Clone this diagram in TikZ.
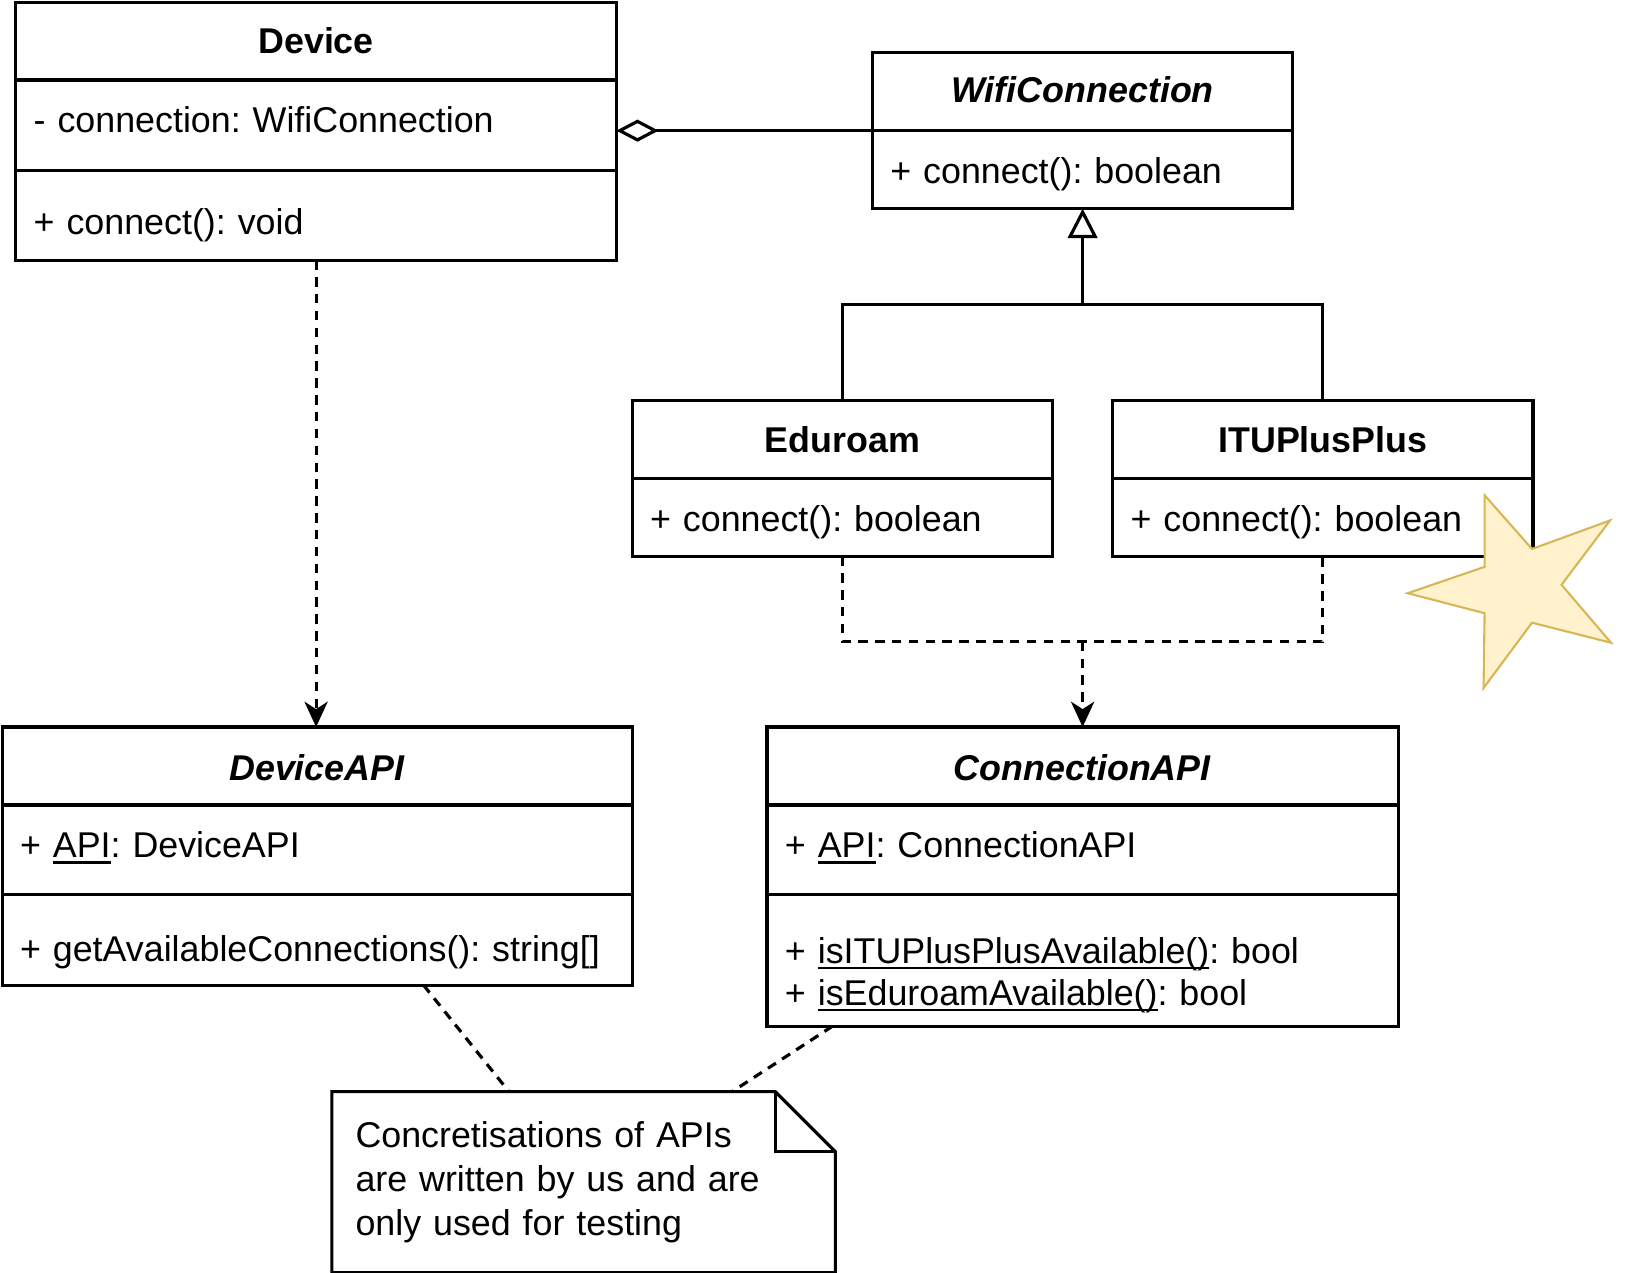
\documentclass[tikz,border=0pt]{standalone}
\usepackage{fontspec}
\setmainfont{Liberation Sans}
\usetikzlibrary{arrows.meta,chains,positioning}

\definecolor{starfill}{HTML}{FFF2CC}
\definecolor{stardraw}{HTML}{D6B656}

\frenchspacing
% static member underline and text drop inside a compartment
\newcommand{\ulined}[1]{\setbox0\hbox{#1}\rlap{\rule[-2.8pt]{\wd0}{1pt}}\box0}
\newcommand{\drop}[2]{\raisebox{-#1}[\height][\depth]{#2}}

\begin{document}
\begin{tikzpicture}[
         x = 0.5pt, y = -0.5pt,
     node distance = 0pt,
              font = \fontsize{17}{20}\selectfont,
UmlHead/.style={draw, line width=1.5pt, outer sep=0pt, on chain,
                minimum width=#1, minimum height=37pt},
UmlPart/.style 2 args={draw, line width=1.5pt, outer sep=0pt, on chain,
                inner xsep=8.5pt, text width=#1, minimum height=#2, align=left},
UmlNote/.style={inner xsep=11pt, text width=216.5pt, minimum height=85.5pt,
                align=left, font=\fontsize{17}{20.75}\selectfont},
UmlLine/.style={line width=1.5pt},
UmlDash/.style={line width=1.5pt, dash pattern=on 4.5pt off 3.5pt},
  ]
\useasboundingbox (0,0) rectangle (1566,1208);

% classes
\begin{scope}[start chain = going below]
\node [UmlHead=285pt, anchor=north west] (devHead) at (15,2) {\textbf{Device}};
\node [UmlPart={268pt}{43pt}] (devAttr) {\drop{-2.5pt}{- connection: WifiConnection}};
\node [UmlPart={268pt}{42.5pt}] (devMeth) {\drop{4.5pt}{+ connect(): void}};
\end{scope}

\begin{scope}[start chain = going below]
\node [UmlHead=199.5pt, anchor=north west] (wifiHead) at (828,50) {\drop{-1pt}{\textbf{\textit{WifiConnection}}}};
\node [UmlPart={182.5pt}{37pt}] (wifiMeth) {\drop{2pt}{+ connect(): boolean}};
\end{scope}

\begin{scope}[start chain = going below]
\node [UmlHead=199.5pt, anchor=north west] (eduHead) at (600,380) {\textbf{Eduroam}};
\node [UmlPart={182.5pt}{37pt}] (eduMeth) {\drop{2.5pt}{+ connect(): boolean}};
\end{scope}

\begin{scope}[start chain = going below]
\node [UmlHead=199.5pt, anchor=north west] (ituHead) at (1056,380) {\textbf{ITUPlusPlus}};
\node [UmlPart={182.5pt}{37pt}] (ituMeth) {\drop{2.5pt}{+ connect(): boolean}};
\end{scope}

\begin{scope}[start chain = going below]
\node [UmlHead=299pt, anchor=north west] (devapiHead) at (2,690) {\drop{1pt}{\textbf{\textit{DeviceAPI}}}};
\node [UmlPart={282pt}{42.5pt}] (devapiAttr) {\drop{-1pt}{+ \ulined{API}: DeviceAPI}};
\node [UmlPart={282pt}{43pt}] (devapiMeth) {\drop{6pt}{+ getAvailableConnections(): string[]}};
\end{scope}

\begin{scope}[start chain = going below]
\node [UmlHead=299.5pt, anchor=north west] (connHead) at (728,690) {\drop{1pt}{\textbf{\textit{ConnectionAPI}}}};
\node [UmlPart={282.5pt}{42.5pt}] (connAttr) {\drop{-1pt}{+ \ulined{API}: ConnectionAPI}};
\node [UmlPart={282.5pt}{62.5pt}] (connMeth) {\drop{7pt}{+ \ulined{isITUPlusPlusAvailable()}: bool}\\
                                              \drop{7pt}{+ \ulined{isEduroamAvailable()}: bool}};
\end{scope}

% note
\node [UmlNote, anchor=north west] (note) at (315,1036)
      {Concretisations of APIs\\are written by us and are\\only used for testing};
\draw[UmlLine] (note.north west) -- ([xshift=-28.5pt]note.north east)
      -- ([yshift=-28.5pt]note.north east) -- (note.south east)
      -- (note.south west) -- cycle;
\draw[UmlLine] ([xshift=-28.5pt]note.north east) |- ([yshift=-28.5pt]note.north east);

% connectors
\coordinate (split) at (1027.5,289);
\coordinate (merge) at (1027.5,609);
\draw[UmlLine, {Diamond[open, length=20pt, width=10.5pt]}-]
  (devAttr.east |- wifiHead.south west) -- (wifiHead.south west);
\draw[UmlLine] (eduHead.north) |- (split) -| (ituHead.north);
\draw[UmlLine, -{Triangle[open, length=14pt, width=14pt]}] (split) -- (wifiMeth.south);
\draw[UmlDash] (eduMeth.south) |- (merge) -| (ituMeth.south);
\draw[UmlDash, -{Stealth[length=12pt, width=11pt, inset=3.5pt]}] (merge) -- (connHead.north);
\draw[UmlDash, -{Stealth[length=12pt, width=11pt, inset=3.5pt]}]
  (devMeth.south) -- (devMeth.south |- devapiHead.north);
\draw[UmlDash] (devapiMeth.south -| 402,0) -- (note.north -| 483,0);
\draw[UmlDash] (connMeth.south -| 790,0) -- (note.north -| 695,0);

% star
\draw[line width=1pt, draw=stardraw, fill=starfill]
  (1409,470) -- (1454,521) -- (1528,494) -- (1482,555) -- (1529,610)
  -- (1454,591) -- (1408,653) -- (1409,582) -- (1336,563) -- (1409,538) -- cycle;
\end{tikzpicture}
\end{document}
